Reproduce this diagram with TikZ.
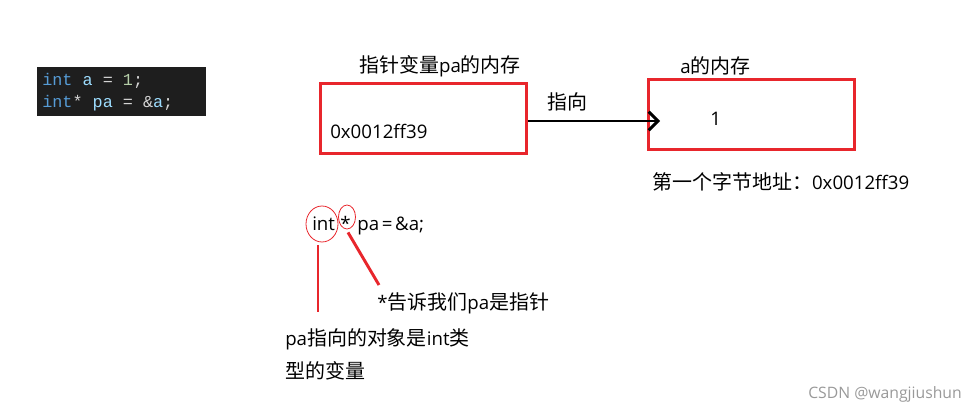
\documentclass[tikz,border=0pt]{standalone}
\usepackage{fontspec}
\setmainfont{Open Sans}
\newfontfamily\cjk{Noto Sans CJK SC}[Scale=1.07]
\newfontfamily\codefont{Liberation Mono}
\usepackage{xcolor}
\usetikzlibrary{arrows.meta,positioning,calc,shapes.geometric}
\definecolor{memred}{HTML}{E8262C}
\definecolor{codebg}{HTML}{1E1E1E}
\definecolor{kwblue}{HTML}{569CD6}
\definecolor{varblue}{HTML}{9CDCFE}
\definecolor{numgreen}{HTML}{B5CEA8}
\definecolor{opgray}{HTML}{D4D4D4}
\newcommand{\zh}[1]{{\cjk #1}}

\begin{document}
\begin{tikzpicture}[
	x=0.75pt, y=-0.75pt,
	font=\fontsize{14pt}{16pt}\selectfont,
	mem/.style={draw=memred, line width=2.2pt, minimum width=206*0.75pt, minimum height=70*0.75pt, inner sep=0pt},
	txt/.style={anchor=base west, inner sep=0pt},
	code/.style={anchor=base west, inner sep=0pt, font=\codefont\fontsize{12.6pt}{14pt}\selectfont},
	ring/.style={ellipse, draw=memred, line width=0.6pt, inner sep=0pt},
	leader/.style={draw=memred, line width=2.2pt}
]
\useasboundingbox (0,0) rectangle (977,415);

% code snippet
\fill[codebg] (37,67) rectangle (206,116);
\begin{scope}
\clip (37,67) rectangle (206,116);
\node[code] (line1) at (42,85) {\textcolor{kwblue}{int} \textcolor{varblue}{a} \textcolor{opgray}{=} \textcolor{numgreen}{1}\textcolor{opgray}{;}};
\node[code] (line2) at (42,107) {\textcolor{kwblue}{int}\textcolor{opgray}{*} \textcolor{varblue}{pa} \textcolor{opgray}{=} \textcolor{opgray}{\&}\textcolor{varblue}{a}\textcolor{opgray}{;}};
\end{scope}

% memory boxes
\node[mem, anchor=north west] (pabox) at (319,82) {};
\node[mem, anchor=north west] (abox) at (647,78) {};
\node[txt] (palabel) at (359,72) {\zh{指针变量}pa\zh{的内存}};
\node[txt] (alabel) at (680,73) {a\zh{的内存}};
\node[txt] (paval) at (330,138) {0x0012ff39};
\node[txt] (aval) at (710,125) {1};
\node[txt] (addr) at (652,189) {\zh{第一个字节地址：}0x0012ff39};

% pointer arrow
\coordinate (tip) at (660,121);
\draw[line width=2.2pt, -{Straight Barb[length=7pt, width=14pt, line width=2.2pt]}] (pabox.east |- tip) -- node[above=3pt, pos=0.3] (points) {\zh{指向}} (tip);

% declaration
\node[txt] (decl) at (312,230) {int\hspace{4pt}*\hspace{5pt}pa\hspace{2pt}=\hspace{2pt}\&a;};
\node[ring, minimum width=32*0.75pt, minimum height=36*0.75pt] (intring) at (322,224) {};
\node[ring, minimum width=17*0.75pt, minimum height=24*0.75pt] (starring) at (347,217) {};

% notes
\node[txt] (starnote) at (377,309) {*\zh{告诉我们}pa\zh{是指针}};
\node[txt] (intnote) at (285,345) {pa\zh{指向的对象是}int\zh{类}};
\node[txt] (intnote2) at (285,378) {\zh{型的变量}};
\coordinate (intend) at (318,312);
\coordinate (starend) at (379,285);
\draw[leader] ($(intring.south)+(-4,3)$) -- (intend);
\draw[leader] ($(starring.south)+(1,3)$) -- (starend);

\node[txt, text=black!40, font=\fontsize{11.8pt}{13pt}\selectfont] (credit) at (808,398) {CSDN @wangjiushun};
\end{tikzpicture}
\end{document}
